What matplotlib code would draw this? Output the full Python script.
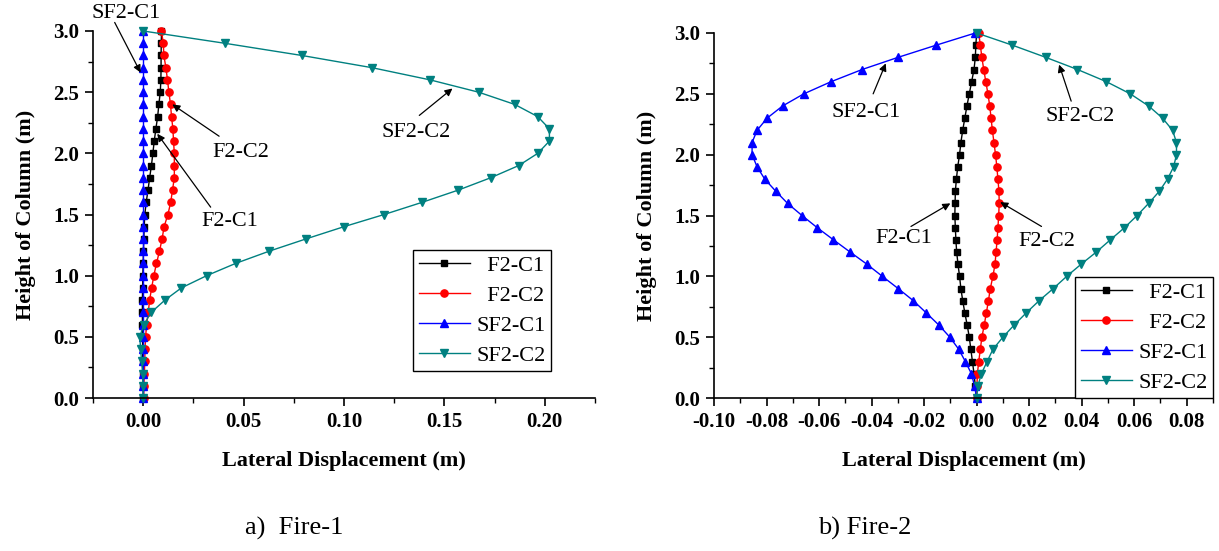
import numpy as np
import matplotlib.pyplot as plt
from matplotlib.ticker import MultipleLocator, FuncFormatter

plt.rcParams.update({"font.family": ["Liberation Serif", "DejaVu Serif"],
                     "axes.unicode_minus": False})

plt.close("all")


#%%
# 柱高 (m)
heights = [0.0, 0.1, 0.2, 0.3, 0.4, 0.5, 0.6, 0.7, 0.8, 0.9, 1.0,
           1.1, 1.2, 1.3, 1.4, 1.5, 1.6, 1.7, 1.8, 1.9, 2.0,
           2.1, 2.2, 2.3, 2.4, 2.5, 2.6, 2.7, 2.8, 2.9, 3.0]

labels = ["F2-C1", "F2-C2", "SF2-C1", "SF2-C2"]

# Fire-1 lateral displacement (m)
fire1_F2C1 = [0.0, 0.0, -0.0001, -0.0002, -0.0003, -0.0003, -0.0004, -0.0004, -0.0004, -0.0003, -0.0002,
              0.0, 0.0001, 0.0003, 0.0005, 0.0008, 0.0015, 0.0024, 0.0032, 0.0041, 0.0048,
              0.0055, 0.0063, 0.0072, 0.0078, 0.0085, 0.0088, 0.0089, 0.0089, 0.0090, 0.0091]
fire1_F2C2 = [0.0003, 0.0003, 0.0006, 0.0008, 0.0009, 0.0012, 0.0017, 0.0025, 0.0032, 0.0042, 0.0053,
              0.0066, 0.0081, 0.0094, 0.0104, 0.0123, 0.0137, 0.0146, 0.0155, 0.0155, 0.0155,
              0.0151, 0.0148, 0.0141, 0.0136, 0.0128, 0.0121, 0.0113, 0.0103, 0.0100, 0.0091]
fire1_SF2C1 = [0.0, 0.0, 0.0, 0.0, 0.0, 0.0, 0.0, 0.0, 0.0, 0.0, 0.0,
               0.0, 0.0, 0.0, 0.0, 0.0, 0.0, 0.0, 0.0, 0.0, 0.0,
               0.0, 0.0, 0.0, 0.0, 0.0, 0.0, 0.0, 0.0, 0.0, 0.0]
fire1_SF2C2 = [0.0, 0.0, -0.0003, -0.0008, -0.0013, -0.0017, 0.0003, 0.0040, 0.0108, 0.0190, 0.0316,
               0.0460, 0.0627, 0.0810, 0.0999, 0.1200, 0.1390, 0.1570, 0.1730, 0.1870, 0.1965,
               0.2023, 0.2023, 0.1965, 0.1850, 0.1670, 0.1430, 0.1140, 0.0790, 0.0405, 0.0]

# Fire-2 lateral displacement (m)
fire2_F2C1 = [0.0, -0.0005, -0.0010, -0.0016, -0.0022, -0.0028, -0.0036, -0.0045, -0.0053, -0.0060, -0.0065,
              -0.0071, -0.0076, -0.0079, -0.0081, -0.0083, -0.0082, -0.0081, -0.0077, -0.0072, -0.0065,
              -0.0060, -0.0053, -0.0045, -0.0037, -0.0028, -0.0019, -0.0010, -0.0005, -0.0003, 0.0]
fire2_F2C2 = [0.0, 0.0001, 0.0003, 0.0008, 0.0014, 0.0020, 0.0029, 0.0037, 0.0045, 0.0052, 0.0062,
              0.0070, 0.0074, 0.0078, 0.0081, 0.0084, 0.0086, 0.0085, 0.0081, 0.0077, 0.0072,
              0.0066, 0.0060, 0.0055, 0.0050, 0.0043, 0.0035, 0.0027, 0.0020, 0.0014, 0.0008]
fire2_SF2C1 = [0.0, -0.0008, -0.0020, -0.0043, -0.0068, -0.0102, -0.0144, -0.0192, -0.0241, -0.0299, -0.0359,
               -0.0418, -0.0482, -0.0545, -0.0607, -0.0665, -0.0720, -0.0765, -0.0807, -0.0836, -0.0855,
               -0.0855, -0.0836, -0.0798, -0.0739, -0.0658, -0.0554, -0.0436, -0.0299, -0.0154, -0.0005]
fire2_SF2C2 = [0.0, 0.0005, 0.0018, 0.0040, 0.0062, 0.0100, 0.0143, 0.0189, 0.0238, 0.0292, 0.0343,
               0.0398, 0.0456, 0.0509, 0.0563, 0.0611, 0.0655, 0.0696, 0.0727, 0.0750, 0.0761,
               0.0761, 0.0746, 0.0708, 0.0655, 0.0585, 0.0494, 0.0384, 0.0263, 0.0136, 0.0]

# 標註：文字位置與箭頭 (tail, head)
fire1_notes = [("SF2-C1", (-0.0083, 3.14), (-0.0142, 3.07), (-0.0013, 2.66)),
               ("F2-C2", (0.0486, 2.01), (0.0378, 2.14), (0.0145, 2.40)),
               ("F2-C1", (0.043, 1.44), (0.0336, 1.56), (0.0070, 2.16)),
               ("SF2-C2", (0.136, 2.17), (0.1375, 2.31), (0.154, 2.53))]
fire2_notes = [("SF2-C1", (-0.042, 2.35), (-0.0394, 2.50), (-0.0346, 2.75)),
               ("F2-C1", (-0.0277, 1.31), (-0.0250, 1.41), (-0.0100, 1.60)),
               ("SF2-C2", (0.0394, 2.31), (0.0360, 2.44), (0.0314, 2.74)),
               ("F2-C2", (0.0269, 1.29), (0.0247, 1.41), (0.0090, 1.61))]


#%%
styles = [dict(color="black", marker="s", markersize=4.5),
          dict(color="red", marker="o", markersize=5.2),
          dict(color="blue", marker="^", markersize=5.8),
          dict(color="#008080", marker="v", markersize=5.8)]

# 圖例文字靠右：短的標籤前面補空白
legend_labels = ["  F2-C1", "  F2-C2", "SF2-C1", "SF2-C2"]


def fmt(decimals):
    # 避免出現 -0.00
    def f(v, pos):
        if abs(v) < 1e-9:
            v = 0.0
        return f"{v:.{decimals}f}"
    return FuncFormatter(f)


fig = plt.figure(figsize=(12.19, 5.51), dpi=100)
ax1 = fig.add_axes([93/1219, 153/551, 502/1219, 367/551])
ax2 = fig.add_axes([714/1219, 153/551, 499/1219, 365/551])


def draw_panel(ax, series, notes, xlim, xmajor, xminor, legend_anchor):
    for xs, st, lab in zip(series, styles, legend_labels):
        ax.plot(xs, heights, linewidth=1.0, label=lab, clip_on=False, **st)

    ax.set_xlim(*xlim)
    ax.set_ylim(0, 3.0)
    ax.xaxis.set_major_locator(MultipleLocator(xmajor))
    ax.xaxis.set_minor_locator(MultipleLocator(xminor))
    ax.yaxis.set_major_locator(MultipleLocator(0.5))
    ax.yaxis.set_minor_locator(MultipleLocator(0.25))
    ax.xaxis.set_major_formatter(fmt(2))
    ax.yaxis.set_major_formatter(fmt(1))

    ax.spines["top"].set_visible(False)
    ax.spines["right"].set_visible(False)
    ax.spines["left"].set_linewidth(1.2)
    ax.spines["bottom"].set_linewidth(1.2)
    ax.tick_params(which="major", direction="out", length=6, width=1.2, labelsize=15, pad=4)
    ax.tick_params(which="minor", direction="out", length=3.5, width=1.0)
    for t in ax.get_xticklabels() + ax.get_yticklabels():
        t.set_fontweight("bold")

    ax.set_xlabel("Lateral Displacement (m)", fontsize=16, fontweight="bold", labelpad=14)
    ax.set_ylabel("Height of Column (m)", fontsize=16, fontweight="bold", labelpad=12)

    for text, txy, tail, head in notes:
        ax.text(txy[0], txy[1], text, fontsize=16, ha="center", va="center", clip_on=False)
        ax.annotate("", xy=head, xytext=tail, annotation_clip=False,
                    arrowprops=dict(arrowstyle="-|>", color="black", lw=0.9,
                                    mutation_scale=11, shrinkA=0, shrinkB=0))

    leg = ax.legend(loc="upper left", bbox_to_anchor=legend_anchor, borderaxespad=0,
                    fontsize=16, frameon=True, fancybox=False, edgecolor="black",
                    framealpha=1, handlelength=2.3, handletextpad=0.3, numpoints=1,
                    labelspacing=0.42, borderpad=0.25)
    leg.get_frame().set_linewidth(1.0)
    return leg


leg1 = draw_panel(ax1, [fire1_F2C1, fire1_F2C2, fire1_SF2C1, fire1_SF2C2], fire1_notes,
                  (-0.025, 0.225), 0.05, 0.025, (0.6375, 0.403))
leg2 = draw_panel(ax2, [fire2_F2C1, fire2_F2C2, fire2_SF2C1, fire2_SF2C2], fire2_notes,
                  (-0.10, 0.09), 0.02, 0.01, (0.7234, 0.3315))

fig.text(294/1219, 1 - 528/551, "a)  Fire-1", fontsize=19, ha="center", va="center")
fig.text(865/1219, 1 - 528/551, "b) Fire-2", fontsize=19, ha="center", va="center")

fig.savefig("out.png", dpi=100)
